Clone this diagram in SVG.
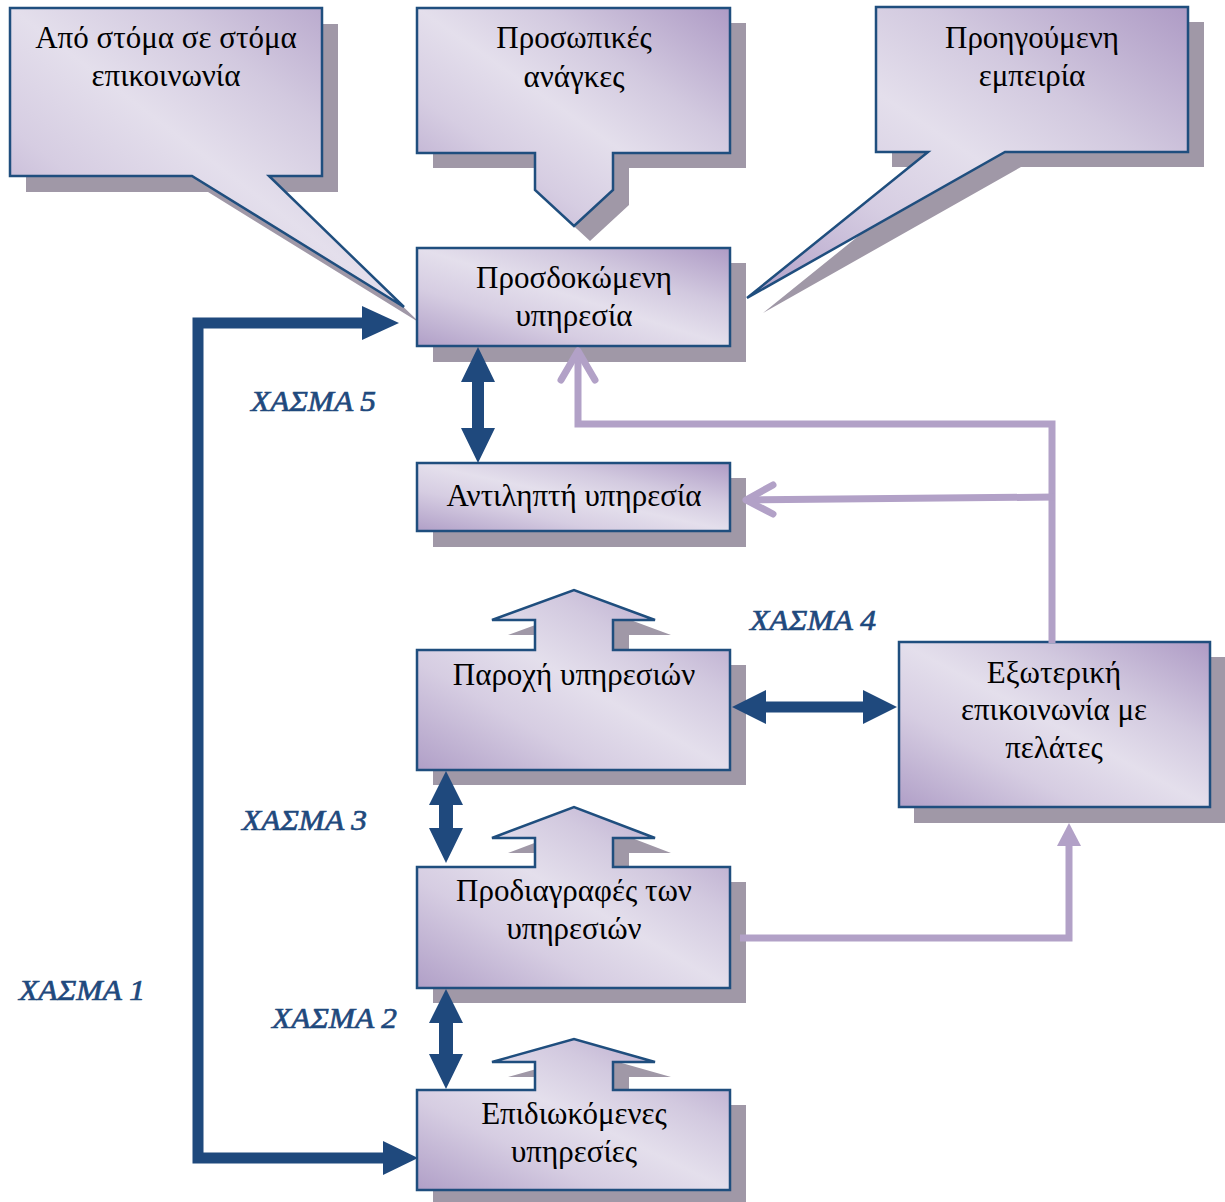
<svg xmlns="http://www.w3.org/2000/svg" width="1225" height="1202" viewBox="0 0 1225 1202">
<defs>
<linearGradient id="g" x1="1" y1="0" x2="0" y2="1">
<stop offset="0" stop-color="#AE9BC5"/>
<stop offset="0.3" stop-color="#D2C9DF"/>
<stop offset="0.5" stop-color="#E4DFEC"/>
<stop offset="0.7" stop-color="#D6CDE2"/>
<stop offset="1" stop-color="#B09FC7"/>
</linearGradient>
<style>
.sh{fill:#A098A7}
.bx{fill:url(#g);stroke:#1F4E7E;stroke-width:2.5;stroke-linejoin:miter}
.t{font-family:"Liberation Serif","Times New Roman",serif;font-size:31px;fill:#000;text-anchor:middle}
.gap{font-family:"Liberation Serif","Times New Roman",serif;font-style:italic;font-size:29px;fill:#1F497D;stroke:#1F497D;stroke-width:0.7}
.db{fill:#1F497D}
.lv{fill:none;stroke:#B2A1C7;stroke-width:7}
.lvh{fill:none;stroke:#B2A1C7;stroke-width:7;stroke-linecap:round;stroke-linejoin:round}
</style>
</defs>

<g id="callout-wom">
<path class="sh" d="M26,24 H338 V192 H285 L420,323 L208,192 H26 Z"/>
<path class="bx" d="M10,8 H322 V176 H269 L404,307 L192,176 H10 Z"/>
<text class="t" x="166" y="48">Από στόμα σε στόμα</text>
<text class="t" x="166" y="86">επικοινωνία</text>
</g>

<g id="callout-needs">
<path class="sh" d="M433,23 H746 V168 H629 V205 L590,241 L551,205 V168 H433 Z"/>
<path class="bx" d="M417,8 H730 V153 H613 V190 L574,226 L535,190 V153 H417 Z"/>
<text class="t" x="574" y="48">Προσωπικές</text>
<text class="t" x="574" y="87">ανάγκες</text>
</g>

<g id="callout-experience">
<path class="sh" d="M892,22 H1204 V167 H1021 L763,313 L944,167 H892 Z"/>
<path class="bx" d="M876,7 H1188 V152 H1005 L747,298 L928,152 H876 Z"/>
<text class="t" x="1032" y="48">Προηγούμενη</text>
<text class="t" x="1032" y="86">εμπειρία</text>
</g>

<g id="expected">
<rect class="sh" x="433" y="263" width="313" height="99"/>
<rect class="bx" x="417" y="248" width="313" height="98"/>
<text class="t" x="574" y="288">Προσδοκώμενη</text>
<text class="t" x="574" y="326">υπηρεσία</text>
</g>

<g id="perceived">
<rect class="sh" x="433" y="478" width="313" height="69"/>
<rect class="bx" x="417" y="463" width="313" height="68"/>
<text class="t" x="574" y="506">Αντιληπτή υπηρεσία</text>
</g>

<g id="delivery">
<path class="sh" d="M433,665 H551 V635 H508 L590,605 L671,635 H629 V665 H746 V785 H433 Z"/>
<path class="bx" d="M417,650 H535 V620 H492 L574,590 L655,620 H613 V650 H730 V770 H417 Z"/>
<text class="t" x="574" y="685">Παροχή υπηρεσιών</text>
</g>

<g id="specs">
<path class="sh" d="M433,882 H551 V853 H508 L590,822 L671,853 H629 V882 H746 V1003 H433 Z"/>
<path class="bx" d="M417,867 H535 V838 H492 L574,807 L655,838 H613 V867 H730 V988 H417 Z"/>
<text class="t" x="574" y="901">Προδιαγραφές των</text>
<text class="t" x="574" y="939">υπηρεσιών</text>
</g>

<g id="intended">
<path class="sh" d="M433,1105 H551 V1077 H508 L590,1054 L671,1077 H629 V1105 H746 V1202 H433 Z"/>
<path class="bx" d="M417,1090 H535 V1062 H492 L574,1039 L655,1062 H613 V1090 H730 V1190 H417 Z"/>
<text class="t" x="574" y="1124">Επιδιωκόμενες</text>
<text class="t" x="574" y="1162">υπηρεσίες</text>
</g>

<g id="external">
<rect class="sh" x="914" y="657" width="311" height="166"/>
<rect class="bx" x="899" y="642" width="311" height="165"/>
<text class="t" x="1054" y="683">Εξωτερική</text>
<text class="t" x="1054" y="720">επικοινωνία με</text>
<text class="t" x="1054" y="758">πελάτες</text>
</g>

<g id="connectors">
<path fill="none" stroke="#1F497D" stroke-width="11" d="M385,1158 H198 V323 H364"/>
<polygon class="db" points="362,306 399,323 362,340"/>
<polygon class="db" points="383,1141 418,1158 383,1175"/>
<polygon class="db" points="478,347 495,382 484,382 484,428 495,428 478,463 461,428 472,428 472,382 461,382"/>
<polygon class="db" points="446,771 463,805 453,805 453,828 463,828 446,863 429,828 439,828 439,805 429,805"/>
<polygon class="db" points="446,989 463,1023 453,1023 453,1054 463,1054 446,1089 429,1054 439,1054 439,1023 429,1023"/>
<polygon class="db" points="732,707 766,690 766,701.5 863,701.5 863,690 897,707 863,724 863,712.5 766,712.5 766,724"/>
<path class="lv" d="M1052,643 V424 H578 V352"/>
<path class="lvh" d="M561,380 L578,351 L595,380"/>
<path class="lv" d="M1055,497 L747,500"/>
<path class="lvh" d="M773,485 L746,500 L773,514"/>
<path class="lv" d="M740,938 H1069 V844"/>
<polygon fill="#B2A1C7" points="1057,846 1069,823 1081,846"/>
<text class="gap" x="251" y="411" textLength="125" lengthAdjust="spacingAndGlyphs">ΧΑΣΜΑ 5</text>
<text class="gap" x="750" y="630" textLength="126" lengthAdjust="spacingAndGlyphs">ΧΑΣΜΑ 4</text>
<text class="gap" x="242" y="830" textLength="125" lengthAdjust="spacingAndGlyphs">ΧΑΣΜΑ 3</text>
<text class="gap" x="272" y="1028" textLength="125" lengthAdjust="spacingAndGlyphs">ΧΑΣΜΑ 2</text>
<text class="gap" x="19" y="1000" textLength="126" lengthAdjust="spacingAndGlyphs">ΧΑΣΜΑ 1</text>
</g>
</svg>
